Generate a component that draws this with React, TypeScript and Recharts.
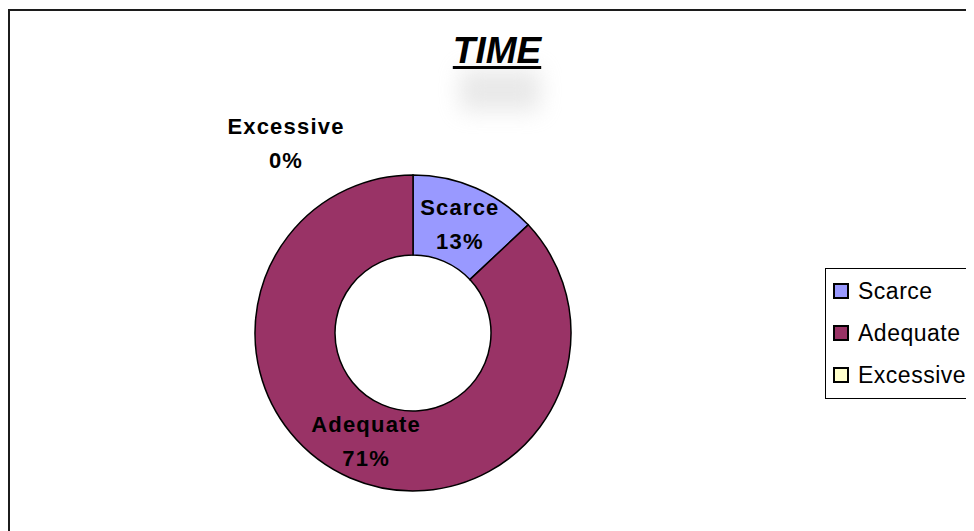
import React from "react";
import { PieChart, Pie, Cell, Legend } from "recharts";

const categories = ["Scarce", "Adequate", "Excessive"];
const shares = [13, 87, 0];
const percentLabels = ["13%", "71%", "0%"];
const colors = ["#9999FF", "#993366", "#FFFFCC"];

const data = categories.map((name, i) => ({
  name,
  value: shares[i],
  pct: percentLabels[i],
}));

const RAD = Math.PI / 180;
const labelFont = "Arial, 'Liberation Sans', sans-serif";

const renderLabel = (props: any) => {
  const { cx, cy, midAngle, innerRadius, outerRadius, index } = props;
  let x: number;
  let y: number;
  if (shares[index] === 0) {
    x = cx - 127;
    y = cy - 190;
  } else {
    const r = (innerRadius + outerRadius) / 2;
    x = cx + r * Math.cos(-midAngle * RAD);
    y = cy + r * Math.sin(-midAngle * RAD);
  }
  return (
    <text
      x={x}
      y={y}
      textAnchor="middle"
      fontFamily={labelFont}
      fontWeight="bold"
      fontSize={22}
      fill="#000"
      style={{ letterSpacing: "1.2px" }}
    >
      <tspan x={x} y={y - 17} dominantBaseline="central">
        {categories[index]}
      </tspan>
      <tspan x={x} y={y + 17} dominantBaseline="central">
        {percentLabels[index]}
      </tspan>
    </text>
  );
};

const renderLegend = () => (
  <div
    style={{
      border: "1px solid #000",
      background: "#fff",
      width: 180,
      height: 131,
      boxSizing: "border-box",
      paddingTop: 1,
      fontFamily: labelFont,
    }}
  >
    {categories.map((c, i) => (
      <div
        key={c}
        style={{
          display: "flex",
          alignItems: "center",
          height: 42,
        }}
      >
        <span
          style={{
            display: "inline-block",
            width: 12,
            height: 12,
            border: "2px solid #000",
            background: colors[i],
            marginLeft: 7,
            marginRight: 9,
          }}
        />
        <span style={{ fontSize: 23, letterSpacing: "0.5px", color: "#000" }}>{c}</span>
      </div>
    ))}
  </div>
);

export default function App() {
  return (
    <div style={{ paddingTop: 1 }}>
      <div
        style={{
          position: "relative",
          width: 1000,
          height: 560,
          border: "2px solid #1c1c1c",
          background: "#fff",
        }}
      >
        <div
          style={{
            position: "absolute",
            left: 450,
            top: 58,
            width: 80,
            height: 42,
            background: "#c8c8c8",
            filter: "blur(11px)",
            opacity: 0.4,
          }}
        />
        <div
          style={{
            position: "absolute",
            left: 487,
            top: 21,
            transform: "translateX(-50%)",
            fontFamily: labelFont,
            fontWeight: "bold",
            fontStyle: "italic",
            fontSize: 37,
            lineHeight: "37px",
            textDecoration: "underline",
            textDecorationThickness: "3px",
            textUnderlineOffset: "3px",
            color: "#000",
            whiteSpace: "nowrap",
          }}
        >
          TIME
        </div>
        <PieChart
          width={1000}
          height={560}
          margin={{ top: 0, right: 0, bottom: 0, left: 0 }}
          style={{ position: "absolute", left: 0, top: 0 }}
        >
          <Pie
            data={data}
            dataKey="value"
            nameKey="name"
            cx={403}
            cy={322}
            innerRadius={78}
            outerRadius={158}
            startAngle={90}
            endAngle={-270}
            stroke="#000"
            strokeWidth={1.5}
            label={renderLabel}
            labelLine={false}
            isAnimationActive={false}
          >
            {data.map((d, i) => (
              <Cell key={d.name} fill={colors[i]} />
            ))}
          </Pie>
          <Legend
            content={renderLegend}
            wrapperStyle={{ position: "absolute", left: 815, top: 257, width: 180 }}
          />
        </PieChart>
      </div>
    </div>
  );
}
